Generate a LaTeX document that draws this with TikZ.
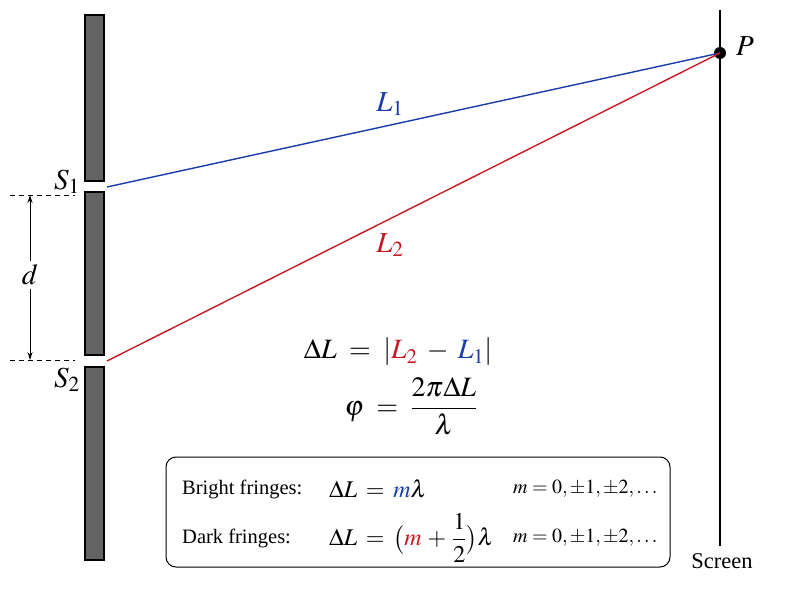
\documentclass[tikz,border=0pt]{standalone}
\usepackage{amsmath}
\usepackage{mathptmx}
\usepackage[no-math]{fontspec}
\setmainfont{Liberation Serif}
\usetikzlibrary{arrows.meta}
\definecolor{bl}{RGB}{25,60,170}
\definecolor{rd}{RGB}{200,25,35}
\definecolor{barg}{RGB}{100,100,100}
\newcommand{\eqspbig}{\thickmuskip=8mu plus 5mu\relax\medmuskip=6mu plus 2mu minus 4mu\relax}
\newcommand{\eqspbox}{\thickmuskip=6.5mu plus 5mu\relax\medmuskip=4.5mu plus 2mu minus 4mu\relax}
\tikzset{
  slab/.style={draw=black,line width=1.2pt,fill=barg},
  dline/.style={dash pattern=on 5pt off 4pt,line width=0.7pt},
  lbl/.style={inner sep=0pt},
  big/.style={font=\fontsize{29}{32}\selectfont},
  eqbig/.style={font=\fontsize{28}{32}\selectfont\eqspbig},
  eqbox/.style={font=\fontsize{24}{28}\selectfont\eqspbox},
  txtbox/.style={font=\fontsize{20.5}{24}\selectfont},
  mrange/.style={font=\fontsize{20}{24}\selectfont},
}
\begin{document}
\begin{tikzpicture}[x=1pt,y=-1pt]
\useasboundingbox (0,0) rectangle (800,591);
% barrier
\draw[slab] (85,15) rectangle (104,181);
\draw[slab] (85,192) rectangle (104,355);
\draw[slab] (85,367) rectangle (104,560);
% slit points
\coordinate (s1) at (107,187);
\coordinate (s2) at (107,361);
% screen
\coordinate (st) at (720,10);
\coordinate (sb) at (720,546);
\draw[line width=1.6pt] (st) -- (sb);
\node[circle,fill=black,inner sep=0pt,minimum size=12pt] (P) at (720,53) {};
\node[lbl,big] (Plab) at (745,46) {$P$};
\node[lbl,font=\fontsize{22.5}{24}\selectfont,anchor=north] (scr) at (722,553) {Screen};
% rays
\draw[bl,line width=1.4pt] (s1) -- (P.center);
\draw[rd,line width=1.4pt] (s2) -- (P.center);
\node[lbl,bl,big] (L1) at (390,104) {$L_1$};
\node[lbl,rd,big] (L2) at (390,245) {$L_2$};
% slit labels
\node[lbl,big] (S1) at (67,182) {$S_1$};
\node[lbl,big] (S2) at (67,380) {$S_2$};
% d marker
\coordinate (da) at (10,195);
\coordinate (db) at (75,195);
\coordinate (dc) at (10,360);
\coordinate (dd) at (75,360);
\draw[dline] (da) -- (db);
\draw[dline] (dc) -- (dd);
\node[lbl,big,fill=white,inner sep=4pt] (d) at (30,275) {$d$};
\coordinate (ut) at (30,195);
\coordinate (ub) at (30,360);
\draw[-{Stealth[length=8pt,width=5pt]},line width=0.8pt] (d.north) -- (ut);
\draw[-{Stealth[length=8pt,width=5pt]},line width=0.8pt] (d.south) -- (ub);
% formulas
\node[lbl,eqbig] (f1) at (398,352) {$\Delta L = |\textcolor{rd}{L_2} - \textcolor{bl}{L_1}|$};
\node[lbl,eqbig] (f2) at (411,406) {$\varphi = \dfrac{2\pi\Delta L}{\lambda}$};
% box
\draw[line width=1pt,rounded corners=10pt] (166,457) rectangle (670,567);
\node[lbl,anchor=west,txtbox] (b1) at (182,489) {Bright fringes:};
\node[lbl,anchor=west,eqbox] (b2) at (329,489) {$\Delta L = \textcolor{bl}{m}\lambda$};
\node[lbl,anchor=west,mrange] (b3) at (513,489) {$m = 0, \pm 1, \pm 2, \ldots$};
\node[lbl,anchor=west,txtbox] (k1) at (182,538) {Dark fringes:};
\node[lbl,anchor=west,eqbox] (k2) at (329,538) {$\Delta L = \bigl(\textcolor{rd}{m} + \dfrac{1}{2}\bigr)\lambda$};
\node[lbl,anchor=west,mrange] (k3) at (513,538) {$m = 0, \pm 1, \pm 2, \ldots$};
\end{tikzpicture}
\end{document}
